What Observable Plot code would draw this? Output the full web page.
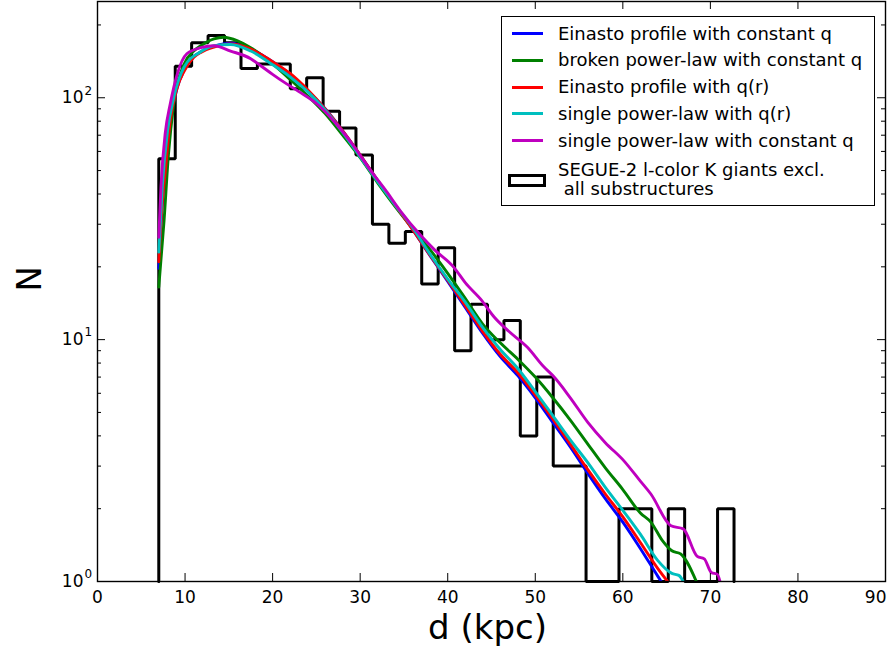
<!DOCTYPE html>
<html><head><meta charset="utf-8">
<script src="https://cdn.jsdelivr.net/npm/d3@7"></script>
<script src="https://cdn.jsdelivr.net/npm/@observablehq/plot@0.6"></script>
<style>
body{margin:0;background:#fff;font-family:"DejaVu Sans",sans-serif;}
#wrap{position:relative;width:888px;height:655px;}
#legend{position:absolute;left:501px;top:16px;width:374px;height:190px;border:1px solid #000;background:#fff;box-sizing:border-box;}
.entry{position:absolute;left:56px;font-size:18px;line-height:20px;white-space:pre;color:#000;}
.sw{position:absolute;left:10px;width:31px;height:3px;}
.rect{position:absolute;left:6px;top:157px;width:38px;height:13px;border:3px solid #000;box-sizing:border-box;}
</style></head>
<body><div id="wrap"><div id="chart"></div><div id="legend"></div></div>
<script>
// ---- data ----
const xTicks = [0, 10, 20, 30, 40, 50, 60, 70, 80, 90];
const yTicks = [1, 10, 100];
const yTickExponents = ["0", "1", "2"];
const yMinorTicks = [2, 3, 4, 5, 6, 7, 8, 9, 20, 30, 40, 50, 60, 70, 80, 90, 200];

const binEdges = [7.0, 8.88, 10.75, 12.63, 14.51, 16.39, 18.26, 20.14, 22.02, 23.89, 25.77, 27.65,
  29.52, 31.40, 33.28, 35.16, 37.03, 38.91, 40.79, 42.66, 44.54, 46.42, 48.29, 50.17, 52.05, 53.93,
  55.80, 57.68, 59.56, 61.43, 63.31, 65.19, 67.06, 68.94, 70.82, 72.70];
const binCounts = [56, 135, 169, 181, 169, 132, 138, 138, 109, 121, 88, 75, 58, 30, 25, 28, 17, 24,
  9, 14, 10, 12, 4, 7, 3, 3, 0, 0, 2, 2, 0, 2, 0, 0, 2];

const seriesNames = ["Einasto profile with constant q", "broken power-law with constant q",
  "Einasto profile with q(r)", "single power-law with q(r)", "single power-law with constant q"];
const seriesColors = ["#0000ff", "#008000", "#ff0000", "#00bfbf", "#bf00bf"];
const histName = "SEGUE-2 l-color K giants excl.\n all substructures";

const einastoConstD = [7, 7.4, 7.8, 8.3, 9.1, 9.9, 11, 11.8, 13.3, 15.2, 17.5, 20, 22, 24, 26, 28, 30, 32, 34, 36, 38, 40, 42, 44, 46, 48, 50, 52, 54, 56, 58, 60, 62, 64, 65.2];
const einastoConstN = [19.7, 36, 52, 79, 110, 130, 148, 155, 163, 168, 159, 141, 125, 107, 90, 73, 58, 45.5, 36, 28.5, 22.2, 17.4, 13.6, 10.6, 8.5, 7.1, 5.75, 4.55, 3.6, 2.8, 2.2, 1.76, 1.37, 1.05, 0.9];

const brokenD = [7, 7.6, 8.1, 8.7, 9.9, 11, 11.8, 13.3, 14.4, 16, 17.5, 20, 22, 24, 26, 28, 30, 32, 34, 36, 38, 40, 42, 44, 46, 48, 50, 52, 54, 56, 58, 60, 62, 63.2, 64.5, 65.6, 66.6, 68.5];
const brokenN = [16.5, 31, 58, 94, 138, 156, 164, 175, 178, 172, 161, 138, 119, 102, 86, 70, 56.5, 44.5, 35.5, 28.8, 23.5, 18.8, 14.8, 11.6, 9.7, 8.3, 7.0, 5.75, 4.65, 3.7, 2.95, 2.4, 1.92, 1.76, 1.48, 1.34, 1.30, 0.98];

const einastoQrD = [7, 7.4, 7.75, 8.3, 9.1, 9.9, 11, 11.8, 13.3, 15.2, 17.5, 20, 22, 24, 26, 28, 30, 32, 34, 36, 38, 40, 42, 44, 46, 48, 50, 52, 54, 56, 58, 60, 62, 64, 65.6];
const einastoQrN = [21, 37, 50, 80, 110, 129, 147, 154, 162, 167, 159, 141, 126, 108, 90, 73, 58, 45.5, 36, 28.5, 22.3, 17.6, 13.8, 10.8, 8.7, 7.3, 5.9, 4.7, 3.7, 2.9, 2.3, 1.85, 1.45, 1.13, 0.95];

const singleQrD = [7, 7.4, 8, 8.7, 9.9, 11.8, 13.3, 15.2, 17.5, 20, 22, 24, 26, 28, 30, 32, 34, 36, 38, 40, 42, 44, 46, 48, 50, 52, 54, 56, 58, 60, 62, 64, 65.6, 66.4, 67.3];
const singleQrN = [23, 43, 73, 100, 134, 155, 164, 166, 156, 137, 122, 106, 89, 72, 57, 45, 36, 29, 22.5, 17.8, 14.3, 11.2, 9.1, 7.6, 6.1, 4.85, 3.85, 3.1, 2.45, 1.97, 1.57, 1.22, 1.08, 1.06, 0.93];

const singleConstD = [7, 7.25, 7.75, 8.3, 9.1, 10.2, 11.8, 13.3, 15.2, 17.5, 18.6, 20, 21.3, 23, 25.1, 27, 29, 31.2, 33, 34.6, 36.9, 38.5, 40.7, 42, 43.9, 45.3, 47, 49.1, 51, 52, 54, 56, 58, 60.1, 62, 63.2, 65.5, 66.9, 68.5, 69.3, 70.1, 70.8, 71.3];
const singleConstN = [26.5, 43, 72, 94, 125, 152, 161, 164, 156, 145, 136, 125, 116, 106, 94, 80, 65, 50, 41, 34, 27, 23.5, 19.9, 17.2, 14.5, 12.4, 10.8, 9.3, 7.7, 7.1, 5.75, 4.55, 3.75, 3.16, 2.6, 2.3, 1.7, 1.65, 1.27, 1.24, 1.09, 1.07, 0.93];

// ---- build tables ----
const curveSets = [
  [einastoConstD, einastoConstN], [brokenD, brokenN], [einastoQrD, einastoQrN],
  [singleQrD, singleQrN], [singleConstD, singleConstN]
].map(([ds, ns], i) => ({color: seriesColors[i], rows: ds.map((d, j) => ({d, n: ns[j]}))}));

const yDomain = [1, 250];
const floorN = yDomain[0];
const histPts = [{d: binEdges[0], n: floorN}];
binCounts.forEach((c, i) => histPts.push({d: binEdges[i], n: c > 0 ? c : floorN}));
const lastEdge = binEdges[binEdges.length - 1];
histPts.push({d: lastEdge, n: binCounts[binCounts.length - 1] || floorN});
histPts.push({d: lastEdge, n: floorN});

const W = 888, H = 655, mL = 97, mR = 3, mT = 1, mB = 74;
const innerW = W - mL - mR, innerH = H - mT - mB;
const major = 8, minor = 4;
const xTicksInner = xTicks.slice(0, -1);
const xTickLast = xTicks.slice(-1);

const chart = Plot.plot({
  width: W, height: H, marginLeft: mL, marginRight: mR, marginTop: mT, marginBottom: mB,
  style: {fontFamily: "DejaVu Sans", background: "white", color: "black", overflow: "visible"},
  x: {domain: [0, 90], axis: null},
  y: {type: "log", domain: yDomain, axis: null},
  marks: [
    Plot.line(histPts, {x: "d", y: "n", curve: "step-after", stroke: "black", strokeWidth: 3, strokeLinejoin: "miter"}),
    ...curveSets.map(c => Plot.line(c.rows, {x: "d", y: "n", stroke: c.color, strokeWidth: 2.9, curve: "monotone-x", clip: true})),
    Plot.frame({stroke: "black", strokeWidth: 1.4}),
    Plot.ruleX(xTicks, {x: d => d, insetTop: innerH - major, stroke: "black"}),
    Plot.ruleX(xTicks, {x: d => d, insetBottom: innerH - major, stroke: "black"}),
    Plot.ruleY(yTicks, {y: d => d, insetRight: innerW - major, stroke: "black"}),
    Plot.ruleY(yTicks, {y: d => d, insetLeft: innerW - major, stroke: "black"}),
    Plot.ruleY(yMinorTicks, {y: d => d, insetRight: innerW - minor, stroke: "black"}),
    Plot.ruleY(yMinorTicks, {y: d => d, insetLeft: innerW - minor, stroke: "black"}),
    Plot.text(xTicksInner, {x: d => d, frameAnchor: "bottom", dy: 21, text: d => String(d), fontSize: 17, fill: "black"}),
    Plot.text(xTickLast, {x: d => d, frameAnchor: "bottom", dy: 21, dx: 1, textAnchor: "end", text: d => String(d), fontSize: 17, fill: "black"}),
    Plot.text(yTicks, {y: d => d, frameAnchor: "left", dx: -14, textAnchor: "end", text: () => "10", fontSize: 17, fill: "black"}),
    Plot.text(yTicks, {y: d => d, frameAnchor: "left", dx: -13, dy: -7, textAnchor: "start", text: (d, i) => yTickExponents[i], fontSize: 12, fill: "black"}),
    Plot.text(["N"], {frameAnchor: "left", dx: -67, rotate: -90, text: d => d, fontSize: 34, fill: "black"}),
    Plot.text(["d (kpc)"], {frameAnchor: "bottom", dx: -4, dy: 57, text: d => d, fontSize: 34, fill: "black"})
  ]
});
document.getElementById("chart").appendChild(chart);

// ---- legend ----
const legend = document.getElementById("legend");
seriesNames.forEach((name, i) => {
  const c = 16.3 + i * 26.85;
  const sw = document.createElement("div");
  sw.className = "sw"; sw.style.top = (c - 1.5) + "px"; sw.style.background = seriesColors[i];
  legend.appendChild(sw);
  const t = document.createElement("div");
  t.className = "entry"; t.style.top = (c - 9.7) + "px"; t.textContent = name;
  legend.appendChild(t);
});
const r = document.createElement("div"); r.className = "rect"; legend.appendChild(r);
const ht = document.createElement("div");
ht.className = "entry"; ht.style.top = "142.8px"; ht.style.lineHeight = "19px"; ht.textContent = histName;
legend.appendChild(ht);
</script>
</body></html>
